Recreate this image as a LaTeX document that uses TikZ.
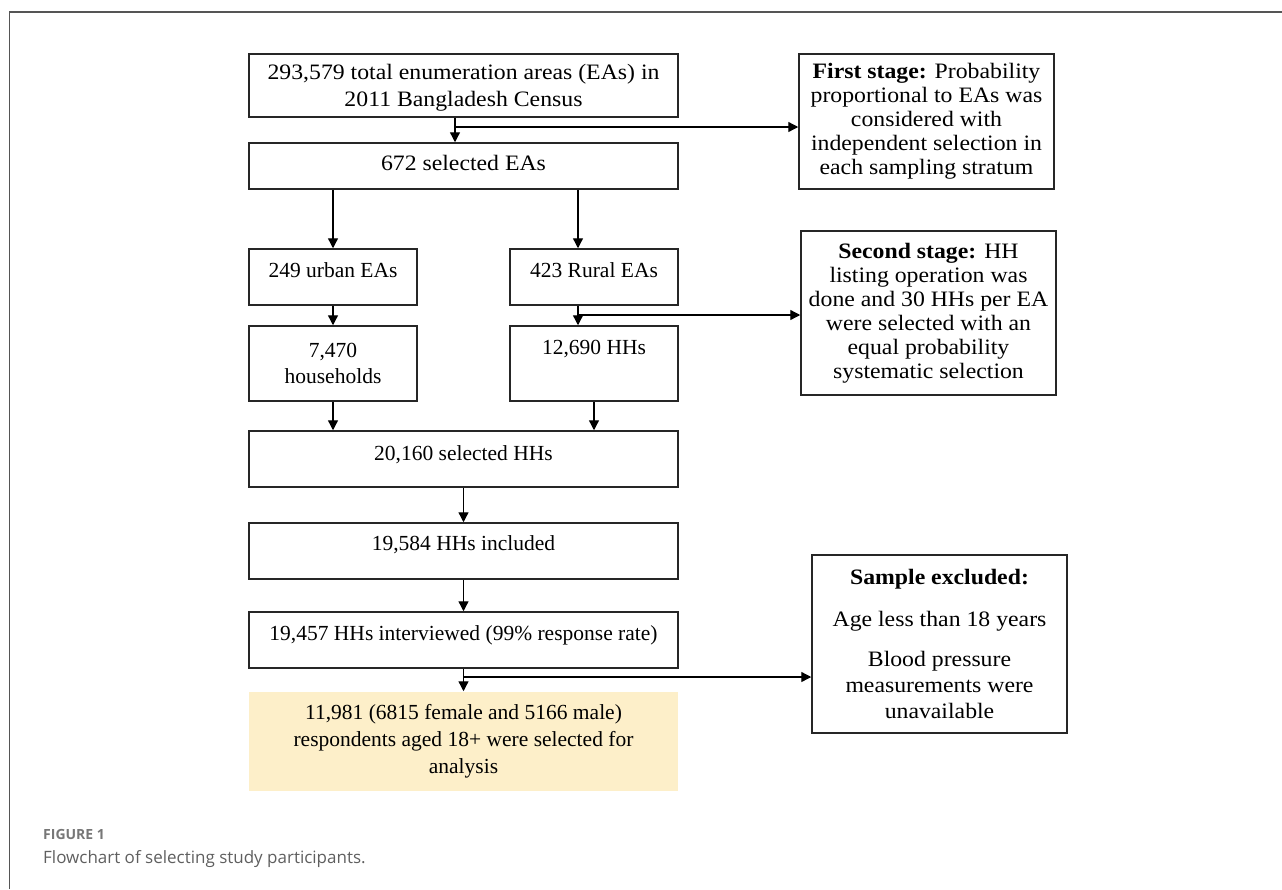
\documentclass[tikz,border=0pt]{standalone}
\usepackage{fontspec}
\setmainfont{Liberation Serif}
\newfontfamily\gfont[FakeStretch=1.08]{Liberation Serif}
\newfontfamily\capfont{Open Sans}
\usepackage{xcolor}
\usepackage{tikz}
\usetikzlibrary{arrows.meta, positioning}
\definecolor{finalfill}{RGB}{253,239,201}
\definecolor{framegray}{RGB}{85,85,85}
\definecolor{capgray}{RGB}{95,95,95}
\tikzset{
  wide/.style={minimum width=429pt},
  narrow/.style={minimum width=168pt},
  side/.style={minimum width=255pt, font=\gfont\fontsize{22}{24}\selectfont},
  lift/.style={text height=15pt, text depth=#1},
  lift/.default=14pt
}

\begin{document}
\begin{tikzpicture}[x=1pt,y=-1pt]
        \useasboundingbox (0,0) rectangle (1282,889);
        \draw[framegray, line width=1.5pt] (9.5,889) -- (9.5,12) -- (1282,12);
        \begin{scope}[every node/.style={draw=black!85, line width=1.5pt, align=center, inner sep=0pt, font=\fontsize{21.5}{26}\selectfont}]
          \node[wide, minimum height=63pt, font=\gfont\fontsize{22}{27}\selectfont, text depth=0pt] (census) at (463.5,85.5) {293,579 total enumeration areas (EAs) in\\2011 Bangladesh Census};
          \node[wide, minimum height=46pt, font=\gfont\fontsize{22}{27}\selectfont, lift=6pt] (ea) at (463.5,166) {672 selected EAs};
          \node[side, minimum height=135pt] (first) at (926.5,121.5) {\textbf{First stage:} Probability\\proportional to EAs was\\considered with\\independent selection in\\each sampling stratum};
          \node[narrow, minimum height=56pt, lift] (urban) at (333,277) {249 urban EAs};
          \node[narrow, minimum height=56pt, lift] (rural) at (594,277) {423 Rural EAs};
          \node[side, minimum height=164pt] (second) at (928.5,313) {\textbf{Second stage:} HH\\listing operation was\\done and 30 HHs per EA\\were selected with an\\equal probability\\systematic selection};
          \node[narrow, minimum height=75pt] (hh7) at (333,363.5) {7,470\\households};
          \node[narrow, minimum height=75pt, lift=33pt] (hh12) at (594,363.5) {12,690 HHs};
          \node[wide, minimum height=56pt, lift=12pt] (hh20) at (463.5,459) {20,160 selected HHs};
          \node[wide, minimum height=56pt, lift=16pt] (incl) at (463.5,551) {19,584 HHs included};
          \node[wide, minimum height=56pt, lift] (intv) at (463.5,640) {19,457 HHs interviewed (99\% response rate)};
          \node[wide, minimum height=99pt, draw=none, fill=finalfill, font=\fontsize{21.5}{27}\selectfont] (final) at (463.5,741.5) {11,981 (6815 female and 5166 male)\\respondents aged 18+ were selected for\\analysis};
          \node[side, minimum height=178pt, font=\gfont\fontsize{22}{26}\selectfont] (excl) at (939.5,644) {\textbf{Sample excluded:}\\[16pt]Age less than 18 years\\[14pt]Blood pressure\\measurements were\\unavailable};
        \end{scope}
        \coordinate (s1) at (455,127);
        \coordinate (s2) at (578,315);
        \coordinate (s3) at (463.5,677);
        \begin{scope}[every edge/.style={draw=black, line width=1.3pt, -{Triangle[length=10pt,width=10pt]}}]
          \path (census.south -| s1) edge (ea.north -| s1);
          \path (s1) edge (first.west |- s1);
          \path (ea.south -| urban) edge (urban);
          \path (ea.south -| s2) edge (rural.north -| s2);
          \path (urban) edge (hh7);
          \path (rural.south -| s2) edge (hh12.north -| s2);
          \path (s2) edge (second.west |- s2);
          \path (hh7) edge (hh20.north -| hh7);
          \path (hh12) edge (hh20.north -| hh12);
          \path (hh20) edge (incl);
          \path (incl) edge (intv);
          \path (intv) edge (final);
          \path (s3) edge (excl.west |- s3);
        \end{scope}
        \node[anchor=base west, inner sep=0pt, text=capgray!85, font=\capfont\bfseries\fontsize{14}{17}\selectfont] (figno) at (43,839) {FIGURE 1};
        \node[anchor=base west, inner sep=0pt, text=capgray, font=\capfont\fontsize{17}{20}\selectfont] (caption) at (43,863) {Flowchart of selecting study participants.};
\end{tikzpicture}
\end{document}
